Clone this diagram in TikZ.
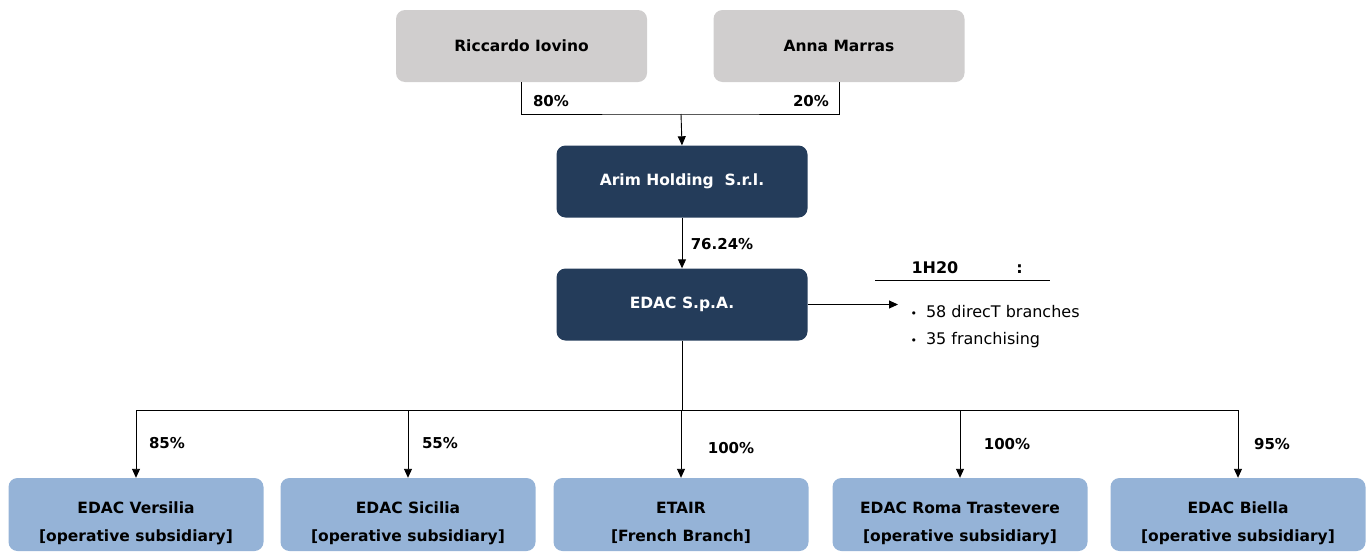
\documentclass[tikz,border=0pt]{standalone}
\usepackage{fontspec}
\setmainfont{DejaVu Sans}
\usetikzlibrary{arrows.meta}
\definecolor{ownergray}{HTML}{D0CECE}
\definecolor{holdnavy}{HTML}{243C5A}
\definecolor{subblue}{HTML}{95B3D7}
\newcommand{\sublabel}[2]{\raisebox{-7.5pt}[\height][\depth]{\begin{tabular}{@{}c@{}}#1\\{}#2\end{tabular}}}
\tikzset{
  box/.style={rounded corners=9pt, minimum width=251pt, minimum height=72pt,
    inner sep=0pt, align=center, font=\fontsize{15.5}{28}\selectfont\bfseries},
  owner/.style={box, fill=ownergray, text=black},
  hold/.style={box, fill=holdnavy, text=white},
  sub/.style={box, fill=subblue, text=black, minimum width=255pt, minimum height=73pt},
  pct/.style={font=\fontsize{15}{18}\selectfont\bfseries},
  info/.style={anchor=west, font=\fontsize{16}{18}\selectfont},
  link/.style={-{Triangle[length=9pt,width=8pt]}, line width=0.9pt},
}
\begin{document}
\begin{tikzpicture}[x=1pt,y=-1pt]
  \useasboundingbox (0,0) rectangle (1370,552);

  % owners
  \node[owner] (ri) at (521.5,46) {Riccardo Iovino};
  \node[owner] (am) at (839,46) {Anna Marras};
  \coordinate (join) at (681,114);
  \draw[line width=0.9pt] (ri.south) |- (join) -| (am.south);
  \node[pct] (p80) at (551,101) {80\%};
  \node[pct] (p20) at (811,101) {20\%};

  % holding chain
  \node[hold] (arim) at (682,181.5) {Arim Holding\ \ S.r.l.};
  \node[hold] (edac) at (682,304.5) {EDAC S.p.A.};
  \draw[link] (join) -- (arim.north);
  \draw[link] (arim.south) -- (edac.north);
  \node[pct] (p76) at (722,244) {76.24\%};

  % network
  \coordinate (infoin) at (898,304.5);
  \draw[link] (edac.east) -- (infoin);
  \node[info, font=\fontsize{16}{18}\selectfont\bfseries] (period) at (908,268) {1H20\hspace{58pt}:};
  \draw[line width=0.9pt] (875,280) -- (1050,280);
  \node[info] (b1) at (907,312) {{\fontsize{11}{11}\selectfont\textbullet}\hspace{9pt}58 direcT branches};
  \node[info] (b2) at (907,340) {{\fontsize{11}{11}\selectfont\textbullet}\hspace{9pt}35 franchising};

  % subsidiaries
  \node[sub] (ver) at (136,514.5) {\sublabel{EDAC Versilia}{[operative subsidiary]}};
  \node[sub] (sic) at (408,514.5) {\sublabel{EDAC Sicilia}{[operative subsidiary]}};
  \node[sub] (eta) at (681,514.5) {\sublabel{ETAIR}{[French Branch]}};
  \node[sub] (rom) at (960,514.5) {\sublabel{EDAC Roma Trastevere}{[operative subsidiary]}};
  \node[sub] (bie) at (1238,514.5) {\sublabel{EDAC Biella}{[operative subsidiary]}};

  \coordinate (fork) at (682,410);
  \draw[line width=0.9pt] (edac.south) -- (fork);
  \draw[line width=0.9pt] (ver.north |- fork) -- (bie.north |- fork);
  \foreach \s in {ver,sic,eta,rom,bie}
    \draw[link] (\s.north |- fork) -- (\s.north);

  \node[pct] (p85) at (167,443) {85\%};
  \node[pct] (p55) at (440,443) {55\%};
  \node[pct] (p100a) at (731,448) {100\%};
  \node[pct] (p100b) at (1007,444) {100\%};
  \node[pct] (p95) at (1272,444) {95\%};
\end{tikzpicture}
\end{document}
